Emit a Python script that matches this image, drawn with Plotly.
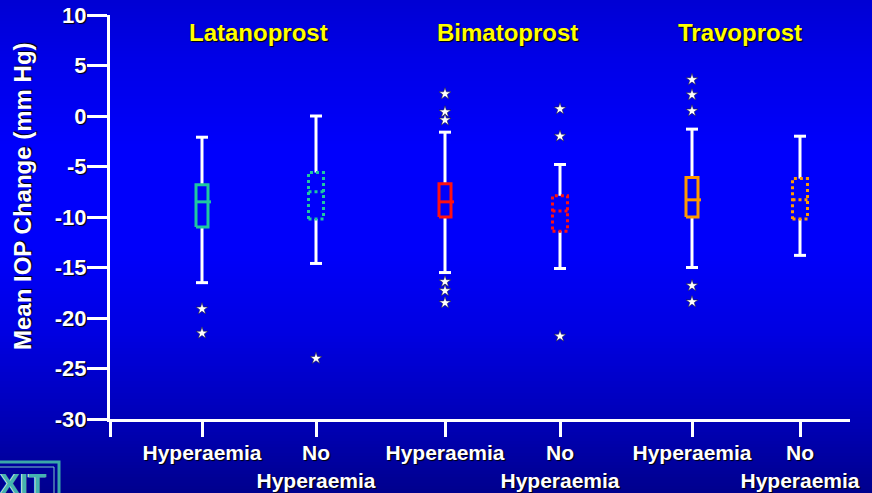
import plotly.graph_objects as go

# ---- data ---------------------------------------------------------------
drugs = ["Latanoprost", "Bimatoprost", "Travoprost"]
conditions = ["Hyperaemia", "No<br>Hyperaemia"]
drug_colors = ["#1ec8a0", "#ff1010", "#ff9900"]

# one entry per box, in order: drug x condition
lower_whisker = [-16.5, -14.6, -15.5, -15.1, -15.0, -13.8]
q1 = [-11.0, -10.2, -10.0, -11.4, -10.0, -10.2]
median = [-8.5, -7.5, -8.5, -9.4, -8.3, -8.3]
q3 = [-6.8, -5.6, -6.7, -7.9, -6.1, -6.2]
upper_whisker = [-2.1, 0.0, -1.6, -4.8, -1.3, -2.0]
outliers = [
    [-19.1, -21.5],
    [-24.0],
    [2.2, 0.4, -0.4, -16.4, -17.3, -18.5],
    [0.7, -2.0, -21.8],
    [3.6, 2.1, 0.5, -16.8, -18.4],
    [],
]

y_ticks = [10, 5, 0, -5, -10, -15, -20, -25, -30]

# ---- layout helpers (plot area in pixels) -------------------------------
W, H = 872, 493
L, R, T, B = 110, 22, 15, 74
PW, PH = W - L - R, H - T - B
slot_x = [92, 206, 335, 450, 582, 690]      # x-axis units = pixels from the axis origin
title_x = [148, 397, 630]


def py(p):
    """pixel row -> paper y"""
    return (H - B - p) / PH


def px(p):
    """pixel column -> paper x"""
    return (p - L) / PW


FONT = "Liberation Sans, Arial, sans-serif"
SHADOW = "1px 1px 1px #000000"

fig = go.Figure()

# background gradient: stacked horizontal bands
stops = [(0, 212), (60, 232), (150, 252), (250, 250), (330, 226), (420, 182), (493, 140)]


def blue_at(p):
    for (a, ca), (b, cb) in zip(stops[:-1], stops[1:]):
        if a <= p <= b:
            return ca + (cb - ca) * (p - a) / (b - a)
    return stops[-1][1]


shapes = []
step = 3
for p in range(0, H + step, step):
    c = round(blue_at(p))
    shapes.append(dict(type="rect", xref="paper", yref="paper", layer="below",
                       x0=px(-5), x1=px(W + 5), y0=py(p + step + 0.5), y1=py(p),
                       line=dict(width=0), fillcolor=f"rgb(0,0,{c})"))

# ---- boxes ----------------------------------------------------------------
for i in range(6):
    d, cond = divmod(i, 2)
    c = slot_x[i]
    col = drug_colors[d]
    hw = 6 if cond == 0 else 7.5
    dash = "solid" if cond == 0 else "dot"
    cap = 6

    # whiskers
    fig.add_trace(go.Scatter(
        x=[c, c, None, c, c], y=[q3[i], upper_whisker[i], None, q1[i], lower_whisker[i]],
        mode="lines", line=dict(color="white", width=3), hoverinfo="skip", showlegend=False))
    fig.add_trace(go.Scatter(
        x=[c - cap, c + cap, None, c - cap, c + cap],
        y=[upper_whisker[i], upper_whisker[i], None, lower_whisker[i], lower_whisker[i]],
        mode="lines", line=dict(color="white", width=3), hoverinfo="skip", showlegend=False))
    # box outline
    fig.add_trace(go.Scatter(
        x=[c - hw, c + hw, c + hw, c - hw, c - hw], y=[q1[i], q1[i], q3[i], q3[i], q1[i]],
        mode="lines", line=dict(color=col, width=3, dash=dash), hoverinfo="skip", showlegend=False))
    # median
    ext = 3 if cond == 0 else 0
    fig.add_trace(go.Scatter(
        x=[c - hw, c + hw + ext], y=[median[i], median[i]],
        mode="lines", line=dict(color=col, width=3, dash=dash), hoverinfo="skip", showlegend=False))
    # outliers
    if outliers[i]:
        fig.add_trace(go.Scatter(
            x=[c] * len(outliers[i]), y=outliers[i], mode="markers",
            marker=dict(symbol="star", size=9, color="white",
                        line=dict(color="#202040", width=0.6)),
            hoverinfo="skip", showlegend=False, cliponaxis=False))

# ---- titles ---------------------------------------------------------------
annotations = []
for name, tx in zip(drugs, title_x):
    annotations.append(dict(x=tx, xref="x", y=py(32), yref="paper", text=name, showarrow=False,
                            font=dict(family=FONT, size=24, color="#ffff00", weight="bold",
                                      shadow=SHADOW),
                            xanchor="center", yanchor="middle"))

annotations.append(dict(x=px(23), xref="paper", y=py(196), yref="paper",
                        text="Mean IOP Change (mm Hg)", textangle=-90, showarrow=False,
                        font=dict(family=FONT, size=24, color="white", weight="bold",
                                  shadow=SHADOW),
                        xanchor="center", yanchor="middle"))

# corner button
shapes.append(dict(type="rect", xref="paper", yref="paper", x0=px(-10), x1=px(59),
                   y0=py(505), y1=py(462), line=dict(color="#3aa8a8", width=3),
                   fillcolor="rgba(0,0,0,0)"))
shapes.append(dict(type="rect", xref="paper", yref="paper", x0=px(-10), x1=px(54),
                   y0=py(505), y1=py(467), line=dict(color="#7cc8c8", width=1),
                   fillcolor="rgba(0,0,0,0)"))
annotations.append(dict(x=px(49), xref="paper", y=py(484), yref="paper", text="XIT",
                        showarrow=False, xanchor="right", yanchor="middle",
                        font=dict(family=FONT, size=30, color="#44b4b0", weight="bold",
                                  shadow="-1px 0px 0px #d8f0f0")))

tick_labels = [cond for _ in drugs for cond in conditions]

fig.update_layout(
    width=W, height=H,
    margin=dict(l=L, r=R, t=T, b=B, autoexpand=False),
    paper_bgcolor="#0000e0", plot_bgcolor="rgba(0,0,0,0)",
    shapes=shapes, annotations=annotations,
    xaxis=dict(range=[0, PW], showgrid=False, zeroline=False, showline=True,
               linecolor="white", linewidth=3, ticks="outside", ticklen=15, tickwidth=3,
               tickcolor="white", tickvals=[0] + slot_x, ticktext=[""] + tick_labels,
               tickangle=0, ticklabelstandoff=-2,
               tickfont=dict(family=FONT, size=21, color="white", weight="bold", shadow=SHADOW),
               fixedrange=True),
    yaxis=dict(range=[-30, 10], showgrid=False, zeroline=False, showline=True,
               linecolor="white", linewidth=3, ticks="outside", ticklen=20, tickwidth=3,
               tickcolor="white", tickvals=y_ticks, ticktext=[str(v) for v in y_ticks],
               ticklabelstandoff=-4,
               tickfont=dict(family=FONT, size=22, color="white", weight="bold", shadow=SHADOW),
               fixedrange=True),
    showlegend=False,
)

fig.write_html("out.html", config={"displayModeBar": False})
